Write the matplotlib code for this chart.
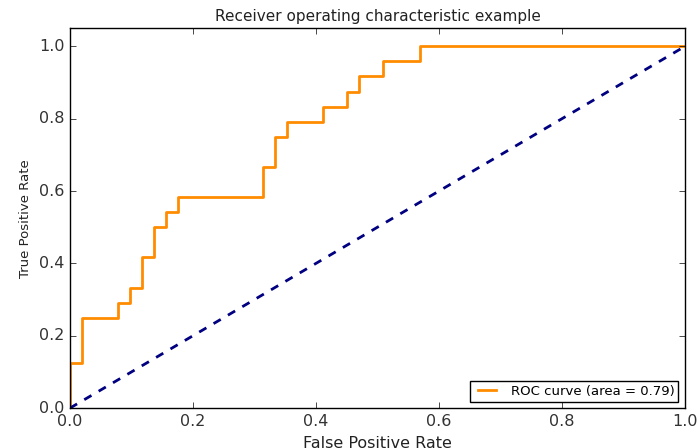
import matplotlib
matplotlib.use('Agg')
import matplotlib.pyplot as plt

plt.style.use('classic')
plt.rcParams['font.family'] = ['DejaVu Sans']

# ROC curve points (51 negatives, 24 positives)
fpr = [0.0, 0.0, 0.0196, 0.0196, 0.0784, 0.0784, 0.0980, 0.0980, 0.1176, 0.1176,
       0.1373, 0.1373, 0.1569, 0.1569, 0.1765, 0.1765, 0.3137, 0.3137, 0.3333, 0.3333,
       0.3529, 0.3529, 0.4118, 0.4118, 0.4510, 0.4510, 0.4706, 0.4706, 0.5098, 0.5098,
       0.5686, 0.5686, 1.0]
tpr = [0.0, 0.125, 0.125, 0.25, 0.25, 0.2917, 0.2917, 0.3333, 0.3333, 0.4167,
       0.4167, 0.5, 0.5, 0.5417, 0.5417, 0.5833, 0.5833, 0.6667, 0.6667, 0.75,
       0.75, 0.7917, 0.7917, 0.8333, 0.8333, 0.875, 0.875, 0.9167, 0.9167, 0.9583,
       0.9583, 1.0, 1.0]
roc_auc = 0.79
chance = [0, 1]

fig = plt.figure(figsize=(6.99, 4.48), dpi=100, facecolor='white')
ax = fig.add_axes([0.100, 0.089, 0.880, 0.848])

ax.plot(fpr, tpr, color='darkorange', lw=2, label='ROC curve (area = %0.2f)' % roc_auc)
ax.plot(chance, chance, color='navy', lw=2, linestyle='--')

ax.set_xlim(0.0, 1.0)
ax.set_ylim(0.0, 1.05)
ax.set_xticks([0.0, 0.2, 0.4, 0.6, 0.8, 1.0])
ax.set_yticks([0.0, 0.2, 0.4, 0.6, 0.8, 1.0])
ax.tick_params(labelsize=11.5, labelcolor='#333333')
ax.set_xlabel('False Positive Rate', fontsize=11.5, color='#222222')
ax.set_ylabel('True Positive Rate', fontsize=9.5, color='#222222')
ax.set_title('Receiver operating characteristic example', fontsize=11, color='#222222')
ax.legend(loc='lower right', fontsize=9.5, borderpad=0.3)

fig.savefig('out.png', dpi=100, facecolor='white')
